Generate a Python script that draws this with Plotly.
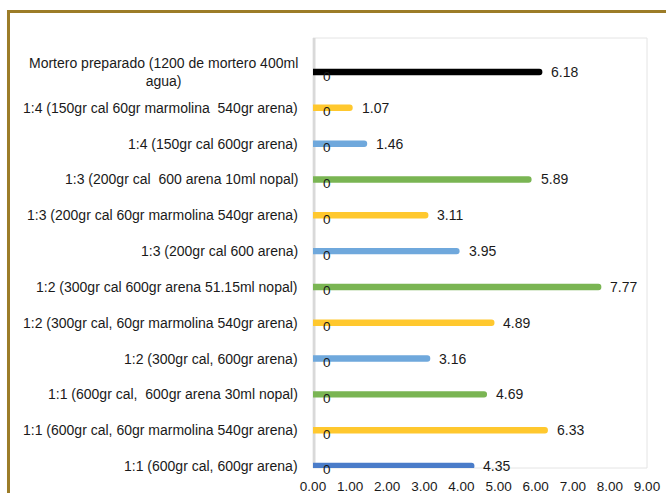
import plotly.graph_objects as go

# Mortar mixes, listed top to bottom as they appear on the chart
labels = [
    "Mortero preparado (1200 de mortero 400ml<br>agua)",
    "1:4 (150gr cal 60gr marmolina  540gr arena)",
    "1:4 (150gr cal 600gr arena)",
    "1:3 (200gr cal  600 arena 10ml nopal)",
    "1:3 (200gr cal 60gr marmolina 540gr arena)",
    "1:3 (200gr cal 600 arena)",
    "1:2 (300gr cal 600gr arena 51.15ml nopal)",
    "1:2 (300gr cal, 60gr marmolina 540gr arena)",
    "1:2 (300gr cal, 600gr arena)",
    "1:1 (600gr cal,  600gr arena 30ml nopal)",
    "1:1 (600gr cal, 60gr marmolina 540gr arena)",
    "1:1 (600gr cal, 600gr arena)",
]
values = [6.18, 1.07, 1.46, 5.89, 3.11, 3.95, 7.77, 4.89, 3.16, 4.69, 6.33, 4.35]
zero_series = [0, 0, 0, 0, 0, 0, 0, 0, 0, 0, 0, 0]
bar_colors = [
    "#000000", "#FFC82E", "#6FA8DC", "#7AB553", "#FFC82E", "#6FA8DC",
    "#7AB553", "#FFC82E", "#6FA8DC", "#7AB553", "#FFC82E", "#4A7CC9",
]
x_ticks = [0, 1, 2, 3, 4, 5, 6, 7, 8, 9]

FONT = "Liberation Sans, Arial, sans-serif"
TEXT = "#1a1a1a"

fig = go.Figure()
fig.add_trace(go.Bar(
    x=values,
    y=labels,
    orientation="h",
    width=0.18,
    marker=dict(color=bar_colors, line=dict(width=0), cornerradius=3),
    hoverinfo="x+y",
))

annotations = []
for lab, v in zip(labels, values):
    # category name to the left of the plot
    annotations.append(dict(
        x=0, xref="paper", y=lab, yref="y", text=lab,
        xanchor="right", yanchor="middle", align="center", xshift=-13,
        showarrow=False, font=dict(family=FONT, size=14, color=TEXT),
    ))
    # value at the end of each bar
    annotations.append(dict(
        x=v, xref="x", y=lab, yref="y", text=f"{v:.2f}",
        xanchor="left", yanchor="middle", xshift=7,
        showarrow=False, font=dict(family=FONT, size=14, color=TEXT),
    ))
for lab, z in zip(labels, zero_series):
    # label of the zero-valued companion series
    annotations.append(dict(
        x=z, xref="x", y=lab, yref="y", text=f"{z:g}",
        xanchor="left", yanchor="middle", xshift=8, yshift=-4,
        showarrow=False, font=dict(family=FONT, size=13.5, color=TEXT),
    ))

shapes = [
    # light plot frame
    dict(type="rect", xref="paper", yref="paper", x0=0, x1=1, y0=0, y1=1,
         line=dict(color="#e4e4e4", width=1), layer="below"),
    # thick grey value axis at zero
    dict(type="line", xref="x", yref="paper", x0=0, x1=0, y0=0, y1=1,
         line=dict(color="#d9d9d9", width=5), layer="below"),
    # gold outer border (top and left edges)
    dict(type="rect", xref="paper", yref="paper",
         x0=-0.9117, x1=1.5, y0=-0.5, y1=1.0616,
         line=dict(color="#9C7C28", width=3), layer="above"),
]

fig.update_layout(
    width=666, height=493,
    margin=dict(l=313, r=19, t=38, b=25, autoexpand=False),
    paper_bgcolor="white",
    plot_bgcolor="white",
    showlegend=False,
    annotations=annotations,
    shapes=shapes,
    font=dict(family=FONT, color=TEXT),
    xaxis=dict(
        range=[0, 9], tickvals=x_ticks, tickformat=".2f",
        showgrid=False, zeroline=False, showline=False,
        ticks="", ticklabelstandoff=8, automargin=False,
        tickfont=dict(family=FONT, size=13.5, color=TEXT),
        fixedrange=True,
    ),
    yaxis=dict(
        type="category", categoryorder="array", categoryarray=labels,
        range=[11.056, -0.95], showgrid=False, zeroline=False,
        showline=False, showticklabels=False, fixedrange=True,
        automargin=False,
    ),
)

fig.write_html("out.html")
